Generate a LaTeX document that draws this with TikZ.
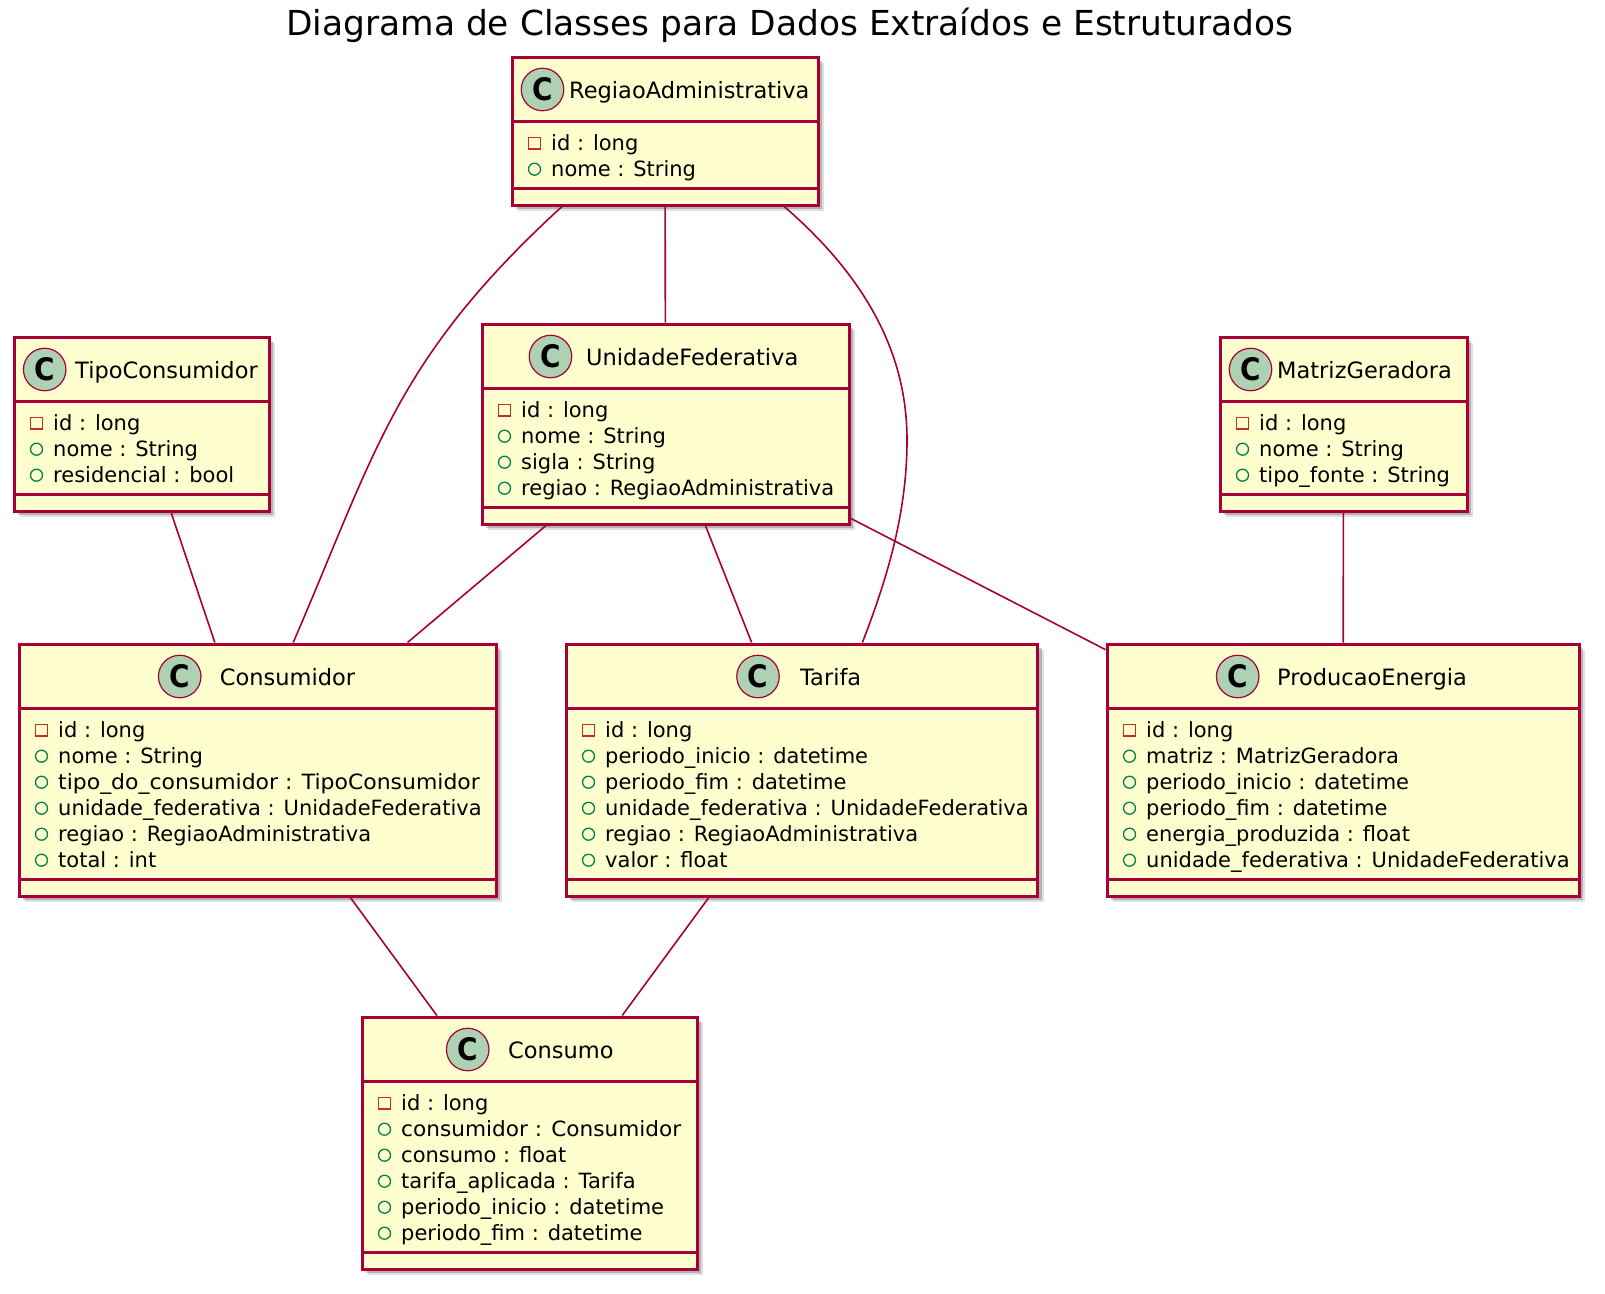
\documentclass[tikz,border=0pt]{standalone}
\usepackage{fontspec}
\setmainfont{DejaVu Sans}
\newfontfamily\cfont{DejaVu Sans Condensed Bold}
\usetikzlibrary{calc,shadows}
\definecolor{border}{HTML}{A80036}
\definecolor{boxfill}{HTML}{FEFECE}
\definecolor{circfill}{HTML}{ADD1B2}
\definecolor{privc}{HTML}{C82930}
\definecolor{pubc}{HTML}{038048}
\tikzset{
  classbox/.style={rectangle, draw=border, line width=3pt, fill=boxfill, inner sep=0pt,
    general shadow={shadow xshift=6pt, shadow yshift=-6pt, fill=black, draw=none, opacity=0.12},
    general shadow={shadow xshift=4pt, shadow yshift=-4pt, fill=black, draw=none, opacity=0.2}},
  sepline/.style={draw=border, line width=2.4pt},
  assoc/.style={draw=border, line width=1.6pt},
  circicon/.style={circle, draw=border, line width=1.2pt, fill=circfill, minimum size=42.5pt,
    inner sep=0pt, font=\fontsize{31}{31}\selectfont\cfont},
  cname/.style={inner sep=0pt, anchor=base west, font=\fontsize{22.5}{26}\selectfont},
  attr/.style={inner sep=0pt, anchor=base west, font=\fontsize{21}{24}\selectfont},
  priv/.style={rectangle, draw=privc, line width=1.3pt, minimum size=11.5pt, inner sep=0pt},
  pub/.style={circle, draw=pubc, line width=1.3pt, minimum size=12pt, inner sep=0pt},
  titletext/.style={inner sep=0pt, anchor=base, font=\fontsize{34.4}{40}\selectfont}
}
\newcommand{\wider}[2]{\scalebox{#1}[1]{#2}}
% #1 id, #2 left, #3 right, #4 top, #5 n attrs, #6 name, #7 circle cx, #8 name x, #9 attrs
\newcommand{\umlclass}[9]{%
  \pgfmathsetmacro{\ucB}{#4+96+26*#5}%
  \pgfmathsetmacro{\ucW}{#3-#2}%
  \pgfmathsetmacro{\ucH}{\ucB-#4}%
  \node[classbox, minimum width=\ucW pt, minimum height=\ucH pt] (#1) at ({(#2+#3)/2},{(#4+\ucB)/2}) {};
  \draw[sepline] (#2,#4+64.5) -- (#3,#4+64.5);
  \draw[sepline] (#2,\ucB-16.5) -- (#3,\ucB-16.5);
  \node[circicon] (#1-c) at (#7,#4+32.5) {C};
  \node[cname] (#1-n) at (#8,#4+41.5) {#6};
  \foreach \vis/\atxt [count=\ii] in {#9} {
    \pgfmathsetmacro{\yb}{#4+93.2+26*(\ii-1)}
    \node[\vis] (#1-i\ii) at (#2+22.5,\yb-7) {};
    \node[attr] (#1-t\ii) at (#2+39,\yb) {\atxt};
  }
}
\begin{document}
\begin{tikzpicture}[x=1pt,y=-1pt]
\fill[white] (0,0) rectangle (1605,1293);
\useasboundingbox (0,0) rectangle (1605,1293);
\node[titletext] (title) at (790,35.5) {Diagrama de Classes para Dados Extraídos e Estruturados};

\umlclass{ra}{512}{818}{57}{2}{RegiaoAdministrativa}{542.5}{569}{priv/id : long, pub/nome : String}
\umlclass{tc}{14}{269}{337}{3}{TipoConsumidor}{44.7}{75}{priv/id : long, pub/nome : String, pub/residencial : bool}
\umlclass{uf}{482}{849}{324}{4}{UnidadeFederativa}{550.5}{586}{priv/id : long, pub/nome : String, pub/sigla : String, pub/regiao : RegiaoAdministrativa}
\umlclass{mg}{1220}{1467}{337}{3}{MatrizGeradora}{1250.5}{1277}{priv/id : long, pub/nome : String, pub/tipo\_fonte : String}
\umlclass{cons}{19}{496}{644}{6}{Consumidor}{179.7}{219.7}{priv/id : long, pub/nome : String, pub/\wider{1.045}{tipo\_do\_consumidor : TipoConsumidor}, pub/unidade\_federativa : UnidadeFederativa, pub/regiao : RegiaoAdministrativa, pub/total : int}
\umlclass{tar}{566}{1037.5}{644}{6}{Tarifa}{758}{800}{priv/id : long, pub/periodo\_inicio : datetime, pub/periodo\_fim : datetime, pub/unidade\_federativa : UnidadeFederativa, pub/regiao : RegiaoAdministrativa, pub/valor : float}
\umlclass{pe}{1107}{1579}{644}{6}{ProducaoEnergia}{1237.7}{1277}{priv/id : long, pub/matriz : MatrizGeradora, pub/periodo\_inicio : datetime, pub/periodo\_fim : datetime, pub/energia\_produzida : float, pub/unidade\_federativa : UnidadeFederativa}
\umlclass{cm}{362}{697}{1017}{6}{Consumo}{467.7}{508}{priv/id : long, pub/\wider{1.03}{consumidor : Consumidor}, pub/consumo : float, pub/tarifa\_aplicada : Tarifa, pub/periodo\_inicio : datetime, pub/periodo\_fim : datetime}

\draw[assoc] (ra) -- (uf);
\draw[assoc] (tc) -- (cons);
\draw[assoc] (uf) -- (cons);
\draw[assoc] (uf) -- (tar);
\draw[assoc] (uf) -- (pe);
\draw[assoc] (mg) -- (pe);
\draw[assoc] (cons) -- (cm);
\draw[assoc] (tar) -- (cm);

\coordinate (raL) at ($(ra.south west)!0.1667!(ra.south east)$);
\coordinate (raR) at ($(ra.south west)!0.8856!(ra.south east)$);
\coordinate (consT) at ($(cons.north west)!0.5744!(cons.north east)$);
\coordinate (tarT) at ($(tar.north west)!0.6278!(tar.north east)$);
\draw[assoc] (raL) .. controls (395,359.5) and (376,451) .. (consT);
\draw[assoc] (raR) .. controls (880.8,290) and (907,370) .. (907,440) .. controls (907,510) and (889,574) .. (tarT);
\end{tikzpicture}
\end{document}
